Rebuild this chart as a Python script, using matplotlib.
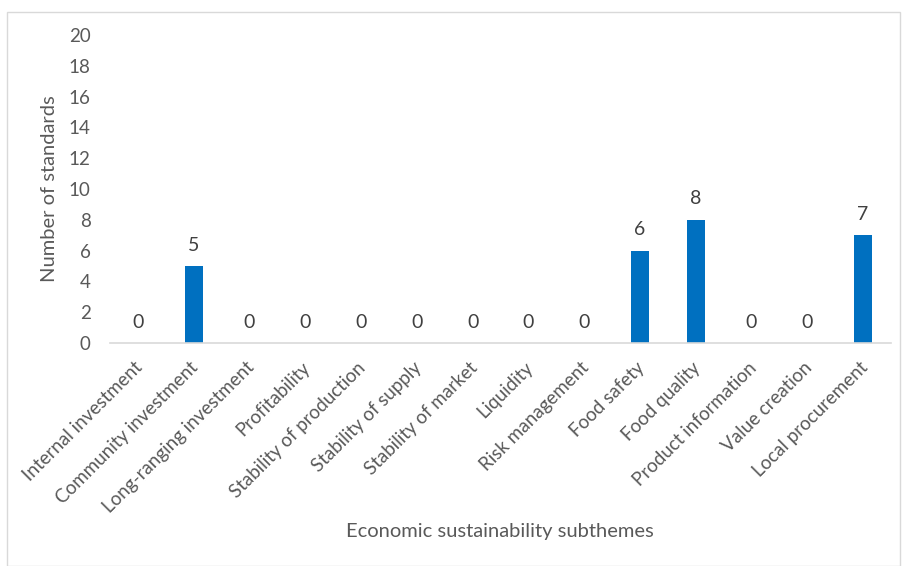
import matplotlib
matplotlib.use("Agg")
import matplotlib.pyplot as plt
import matplotlib.transforms as mtransforms
from matplotlib.patches import Rectangle

categories = ["Internal investment", "Community investment", "Long-ranging investment",
              "Profitability", "Stability of production", "Stability of supply",
              "Stability of market", "Liquidity", "Risk management", "Food safety",
              "Food quality", "Product information", "Value creation", "Local procurement"]
values = [0, 5, 0, 0, 0, 0, 0, 0, 0, 6, 8, 0, 0, 7]
yticks = list(range(0, 21, 2))

plt.rcParams['font.family'] = ['Lato', 'DejaVu Sans']
gray = "#595959"

fig = plt.figure(figsize=(9.02, 5.66), dpi=100)
fig.patches.append(Rectangle((7/902, 0), 893/902, 1 - 12/566, transform=fig.transFigure,
                             fill=False, edgecolor="#d9d9d9", linewidth=1))
ax = fig.add_axes([110/902, 1 - 343/566, 781/902, 308/566])
x = list(range(len(categories)))
ax.bar(x, values, width=0.32, color="#0070C0")
for xi, v in zip(x, values):
    ax.text(xi, v + 0.8, str(v), ha="center", va="bottom", fontsize=14, color="#404040")
ax.set_xlim(-0.5, len(categories) - 0.5)
ax.set_ylim(0, 20)
ax.set_yticks(yticks)
ax.set_xticks(x)
ax.set_xticklabels([])
trans = ax.get_xaxis_transform() + mtransforms.ScaledTranslation(2/100, -22/100, fig.dpi_scale_trans)
for xi, name in zip(x, categories):
    ax.text(xi, 0, name, rotation=45, ha="right", va="center", rotation_mode="anchor",
            fontsize=13.5, color=gray, transform=trans, clip_on=False)
ax.tick_params(axis="y", length=0, labelsize=13.5, labelcolor=gray, pad=14)
ax.tick_params(axis="x", length=0)
for s in ["top", "right", "left"]:
    ax.spines[s].set_visible(False)
ax.spines["bottom"].set_color("#d9d9d9")
ax.spines["bottom"].set_linewidth(1.2)
ax.set_ylabel("Number of standards", fontsize=14.5, color=gray, labelpad=8)
fig.text(500/902, 1 - 532/566, "Economic sustainability subthemes", ha="center", va="center",
         fontsize=14.5, color=gray)
fig.savefig("out.png", dpi=100)
